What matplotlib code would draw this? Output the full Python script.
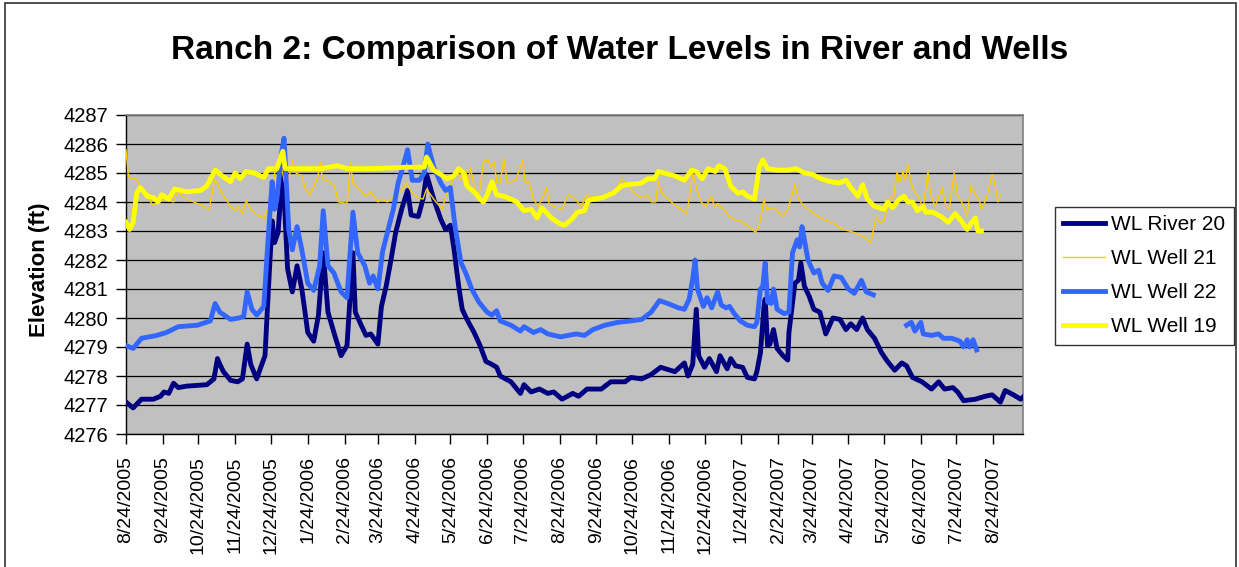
import numpy as np
import matplotlib
matplotlib.use("Agg")
import matplotlib.pyplot as plt
import matplotlib.dates as mdates
from matplotlib.patches import Rectangle
from matplotlib.ticker import FuncFormatter

plt.rcParams["font.family"] = ["Liberation Sans", "DejaVu Sans"]

START = np.datetime64("2005-08-24")

# --- WL River 20 (dni od 8/24/2005, poziom w ft) ---
river_day = [0, 6, 13, 23, 29, 32, 36, 40, 44, 51, 68, 74, 77, 79, 82, 88, 94, 98, 102, 105,
             110, 113, 117, 120, 123, 125, 128, 130, 132, 134, 136, 140, 144, 148, 153, 158,
             162, 166, 170, 175, 181, 186, 191, 193, 198, 202, 206, 212, 215, 219, 223, 227,
             232, 237, 240, 246, 250, 253, 259, 265, 269, 273, 276, 280, 283, 287, 293, 298,
             303, 308, 312, 315, 324, 332, 335, 341, 348, 355, 360, 367, 376, 381, 388, 400,
             408, 420, 425, 434, 442, 450, 462, 470, 473, 477, 480, 482, 487, 491, 497, 500,
             506, 509, 513, 519, 523, 529, 531, 534, 537, 538, 540, 542, 545, 548, 553, 557,
             558, 563, 566, 568, 571, 575, 579, 584, 589, 595, 601, 606, 610, 615, 620, 624,
             630, 636, 641, 647, 653, 657, 662, 670, 678, 684, 689, 696, 700, 705, 715, 723,
             729, 736, 740, 747, 753, 757]
river_wl = [4277.1, 4276.9, 4277.2, 4277.2, 4277.3, 4277.45, 4277.4, 4277.75, 4277.6, 4277.65,
            4277.7, 4277.9, 4278.6, 4278.4, 4278.15, 4277.85, 4277.8, 4277.9, 4279.1, 4278.4,
            4277.9, 4278.25, 4278.7, 4281.1, 4283.35, 4282.6, 4282.95, 4284.1, 4285.1, 4283.4,
            4281.7, 4280.9, 4281.8, 4281.0, 4279.5, 4279.2, 4280.1, 4282.25, 4280.2, 4279.5,
            4278.7, 4279.05, 4282.25, 4280.2, 4279.75, 4279.4, 4279.45, 4279.1, 4280.4, 4281.1,
            4282.0, 4282.95, 4283.75, 4284.4, 4283.55, 4283.5, 4284.1, 4284.95, 4284.1, 4283.4,
            4283.05, 4283.2, 4282.4, 4281.1, 4280.3, 4279.95, 4279.5, 4279.05, 4278.5, 4278.4,
            4278.3, 4278.0, 4277.8, 4277.4, 4277.7, 4277.45, 4277.55, 4277.4, 4277.45, 4277.2,
            4277.4, 4277.3, 4277.55, 4277.55, 4277.8, 4277.8, 4277.95, 4277.9, 4278.05, 4278.3,
            4278.15, 4278.45, 4278.0, 4278.4, 4280.3, 4278.7, 4278.3, 4278.6, 4278.15, 4278.7,
            4278.25, 4278.6, 4278.35, 4278.3, 4277.95, 4277.9, 4278.15, 4278.8, 4280.4, 4280.65,
            4279.05, 4279.1, 4279.6, 4278.95, 4278.7, 4278.55, 4279.5, 4281.2, 4281.3, 4281.9,
            4281.1, 4280.75, 4280.3, 4280.2, 4279.45, 4280.0, 4279.95, 4279.6, 4279.8, 4279.6,
            4280.0, 4279.6, 4279.3, 4278.8, 4278.5, 4278.2, 4278.45, 4278.35, 4277.95, 4277.8,
            4277.55, 4277.8, 4277.55, 4277.6, 4277.45, 4277.15, 4277.2, 4277.3, 4277.35, 4277.1,
            4277.5, 4277.35, 4277.2, 4277.35]

# --- WL Well 21 ---
w21_day = [0, 2, 5, 9, 12, 17, 22, 26, 32, 40, 44, 47, 54, 63, 70, 74, 75, 80, 84, 88, 92, 94,
           98, 101, 105, 110, 116, 119, 123, 126, 129, 130, 134, 137, 140, 143, 148, 151, 155,
           161, 164, 165, 171, 175, 179, 186, 189, 191, 196, 202, 206, 212, 215, 220, 225, 230,
           236, 240, 246, 250, 253, 259, 266, 270, 274, 279, 281, 286, 288, 290, 293, 297, 301,
           305, 307, 310, 312, 315, 318, 321, 328, 331, 334, 336, 339, 343, 347, 350, 354, 356,
           360, 367, 372, 377, 383, 388, 394, 401, 406, 412, 417, 421, 428, 434, 439, 442, 446,
           448, 450, 456, 462, 467, 472, 475, 477, 480, 484, 488, 493, 495, 498, 503, 508, 514,
           517, 526, 530, 533, 537, 539, 544, 547, 553, 557, 561, 563, 566, 571, 579, 587, 596,
           604, 613, 621, 627, 631, 635, 638, 643, 646, 649, 651, 654, 656, 658, 661, 663, 668,
           671, 675, 677, 681, 687, 690, 693, 697, 700, 704, 708, 711, 714, 718, 720, 724, 729,
           731, 734, 736]
w21_wl = [4285.8, 4284.9, 4284.8, 4284.8, 4284.45, 4284.3, 4283.9, 4283.95, 4284.1, 4284.0,
          4284.45, 4284.2, 4284.05, 4283.9, 4283.75, 4284.65, 4284.8, 4284.35, 4284.1, 4283.85,
          4283.7, 4283.85, 4283.6, 4284.05, 4283.75, 4283.55, 4283.45, 4283.75, 4284.1, 4285.35,
          4285.05, 4285.4, 4284.55, 4284.75, 4285.45, 4285.0, 4284.9, 4284.45, 4284.25, 4284.8,
          4285.4, 4284.8, 4284.7, 4284.6, 4284.0, 4283.95, 4285.35, 4284.65, 4284.45, 4284.2,
          4284.35, 4284.0, 4284.1, 4284.0, 4284.15, 4284.3, 4284.65, 4284.35, 4284.15, 4284.1,
          4284.45, 4284.1, 4283.75, 4284.3, 4284.65, 4285.2, 4284.75, 4285.1, 4284.65, 4285.2,
          4284.5, 4284.2, 4285.4, 4285.45, 4285.2, 4285.4, 4284.65, 4284.65, 4285.5, 4284.65,
          4284.75, 4285.1, 4285.45, 4284.65, 4284.7, 4284.1, 4283.85, 4284.1, 4284.5, 4283.95,
          4283.85, 4283.75, 4284.25, 4284.15, 4283.85, 4284.25, 4284.15, 4284.2, 4284.3, 4284.4,
          4284.8, 4284.65, 4284.3, 4284.15, 4284.25, 4284.0, 4284.0, 4284.75, 4284.35, 4284.1,
          4283.9, 4283.75, 4283.6, 4284.4, 4285.0, 4284.5, 4284.0, 4283.85, 4284.2, 4283.85,
          4283.95, 4283.75, 4283.5, 4283.35, 4283.35, 4283.1, 4282.95, 4283.2, 4284.1, 4283.75,
          4283.8, 4283.75, 4283.5, 4283.75, 4284.3, 4284.6, 4284.1, 4283.85, 4283.6, 4283.4,
          4283.25, 4283.05, 4282.95, 4282.8, 4282.6, 4283.45, 4283.3, 4283.35, 4284.2, 4284.1,
          4285.05, 4284.65, 4285.05, 4284.75, 4285.3, 4284.65, 4284.4, 4284.1, 4283.75, 4285.05,
          4284.3, 4283.85, 4284.5, 4283.85, 4283.75, 4285.0, 4284.2, 4283.95, 4283.5, 4284.55,
          4284.3, 4284.1, 4283.75, 4284.1, 4284.95, 4284.7, 4284.0, 4284.25]

# --- WL Well 22 (przerwa w danych ~ maj 2007) ---
w22_day = [0, 6, 13, 26, 34, 44, 60, 71, 75, 79, 88, 95, 99, 102, 106, 110, 116, 119, 123, 125,
           127, 131, 133, 135, 137, 140, 144, 148, 153, 158, 163, 166, 170, 175, 181, 186, 191,
           195, 201, 205, 208, 212, 216, 220, 225, 229, 233, 237, 241, 247, 251, 254, 259, 265,
           269, 273, 277, 282, 286, 291, 297, 304, 308, 312, 315, 324, 332, 335, 343, 349, 355,
           366, 372, 379, 386, 393, 403, 414, 425, 434, 442, 449, 456, 465, 470, 474, 477, 479,
           481, 486, 489, 493, 498, 501, 505, 508, 512, 517, 523, 529, 531, 534, 536, 538, 540,
           543, 545, 548, 554, 558, 561, 565, 567, 569, 571, 574, 579, 583, 586, 591, 596, 602,
           608, 613, 619, 623, 629, 643, 657, 661, 664, 669, 671, 678, 684, 688, 695, 702, 705,
           708, 710, 713, 716]
w22_wl = [4279.05, 4278.95, 4279.3, 4279.4, 4279.5, 4279.7, 4279.75, 4279.9, 4280.5, 4280.2,
          4279.95, 4280.0, 4280.05, 4280.9, 4280.3, 4280.1, 4280.4, 4282.35, 4284.7, 4283.75,
          4284.1, 4285.7, 4286.2, 4284.65, 4283.05, 4282.35, 4283.15, 4282.35, 4281.2, 4280.95,
          4281.8, 4283.7, 4281.8, 4281.55, 4280.9, 4280.7, 4283.65, 4282.25, 4281.8, 4281.2,
          4281.45, 4281.0, 4282.3, 4282.95, 4283.75, 4284.65, 4285.2, 4285.8, 4284.75, 4284.75,
          4285.0, 4286.0, 4285.2, 4284.65, 4284.4, 4284.5, 4283.15, 4281.9, 4281.55, 4281.0,
          4280.55, 4280.2, 4280.1, 4280.25, 4279.9, 4279.75, 4279.55, 4279.7, 4279.5, 4279.6,
          4279.45, 4279.35, 4279.4, 4279.45, 4279.4, 4279.6, 4279.75, 4279.85, 4279.9, 4279.95,
          4280.2, 4280.6, 4280.5, 4280.35, 4280.3, 4280.65, 4281.35, 4282.0, 4281.0, 4280.4,
          4280.7, 4280.35, 4280.9, 4280.45, 4280.35, 4280.4, 4280.15, 4279.9, 4279.75, 4279.7,
          4279.85, 4281.0, 4281.1, 4281.9, 4280.55, 4280.5, 4281.0, 4280.3, 4280.15, 4280.2,
          4282.25, 4282.7, 4282.45, 4283.15, 4282.7, 4282.0, 4281.55, 4281.65, 4281.2, 4280.95,
          4281.45, 4281.4, 4281.0, 4280.85, 4281.3, 4280.9, 4280.8, np.nan, 4279.75, 4279.85,
          4279.55, 4279.85, 4279.45, 4279.4, 4279.45, 4279.3, 4279.3, 4279.2, 4279.0, 4279.25,
          4279.0, 4279.25, 4278.9]

# --- WL Well 19 ---
w19_day = [0, 3, 6, 9, 12, 18, 23, 27, 30, 36, 41, 51, 63, 68, 75, 81, 88, 92, 96, 101, 108,
           116, 120, 127, 132, 134, 141, 164, 178, 186, 206, 237, 251, 253, 259, 265, 270, 276,
           280, 284, 287, 293, 298, 301, 304, 308, 312, 318, 324, 329, 335, 341, 346, 350, 358,
           365, 369, 375, 380, 386, 389, 394, 401, 410, 417, 422, 434, 439, 445, 448, 453, 462,
           470, 476, 480, 485, 490, 496, 499, 504, 509, 515, 519, 523, 529, 533, 536, 540, 548,
           557, 564, 571, 578, 585, 593, 600, 606, 610, 616, 620, 624, 630, 638, 641, 645, 651,
           655, 658, 662, 666, 671, 673, 679, 686, 692, 698, 703, 708, 711, 715, 717, 720]
w19_wl = [4283.3, 4283.05, 4283.3, 4284.3, 4284.5, 4284.2, 4284.15, 4284.0, 4284.25, 4284.1,
          4284.45, 4284.35, 4284.4, 4284.55, 4285.1, 4284.9, 4284.7, 4285.0, 4284.8, 4285.05,
          4285.0, 4284.85, 4285.15, 4285.15, 4285.75, 4285.15, 4285.15, 4285.15, 4285.25, 4285.15,
          4285.15, 4285.2, 4285.2, 4285.55, 4285.1, 4284.95, 4284.8, 4284.9, 4285.15, 4285.0,
          4284.55, 4284.35, 4284.1, 4284.0, 4284.25, 4284.7, 4284.25, 4284.2, 4284.1, 4284.0,
          4283.7, 4283.75, 4283.45, 4283.8, 4283.45, 4283.25, 4283.2, 4283.4, 4283.65, 4283.7,
          4284.05, 4284.1, 4284.15, 4284.3, 4284.55, 4284.6, 4284.65, 4284.8, 4284.8, 4285.05,
          4285.0, 4284.9, 4284.75, 4285.1, 4285.05, 4284.8, 4285.15, 4285.05, 4285.25, 4285.15,
          4284.55, 4284.3, 4284.35, 4284.2, 4284.1, 4285.2, 4285.45, 4285.15, 4285.1, 4285.1,
          4285.15, 4285.0, 4284.95, 4284.8, 4284.7, 4284.65, 4284.75, 4284.5, 4284.2, 4284.6,
          4284.1, 4283.85, 4283.75, 4284.0, 4283.8, 4284.1, 4284.2, 4284.0, 4284.0, 4283.7,
          4283.85, 4283.65, 4283.65, 4283.5, 4283.3, 4283.6, 4283.35, 4283.05, 4283.25, 4283.45,
          4283.0, 4283.0]


def to_dates(days):
    return START + np.array(days, dtype="timedelta64[D]")


W, H = 1239, 567
fig = plt.figure(figsize=(W / 100, H / 100), dpi=100)
ax = fig.add_axes([126 / W, 1 - 434 / H, 897 / W, 319 / H])
ax.set_facecolor("#C0C0C0")

# kolejność serii jak w Excelu
ax.plot(to_dates(river_day), river_wl, color="#000080", lw=3.5, label="WL River 20", zorder=3)
ax.plot(to_dates(w21_day), w21_wl, color="#FFCC00", lw=1.0, label="WL Well 21", zorder=3)
ax.plot(to_dates(w22_day), w22_wl, color="#3366FF", lw=3.5, label="WL Well 22", zorder=3)
ax.plot(to_dates(w19_day), w19_wl, color="#FFFF00", lw=3.5, label="WL Well 19", zorder=3)

ax.set_ylim(4276, 4287)
ax.set_yticks(range(4276, 4288))
ax.set_xlim(START, START + np.timedelta64(755, "D"))
ax.xaxis.set_major_locator(mdates.MonthLocator(bymonthday=24))
ax.xaxis.set_major_formatter(FuncFormatter(
    lambda v, pos: (lambda d: f"{d.month}/{d.day}/{d.year}")(mdates.num2date(v))))

ax.grid(axis="y", color="black", lw=0.9, zorder=1)
ax.set_axisbelow(True)
for side in ("top", "right"):
    ax.spines[side].set_color("#808080")
    ax.spines[side].set_linewidth(1.2)
for side in ("left", "bottom"):
    ax.spines[side].set_color("black")
    ax.spines[side].set_linewidth(1.0)

ax.tick_params(axis="both", direction="out", length=7, width=1, colors="black")
ax.tick_params(axis="y", labelsize=14.5, pad=6)
ax.tick_params(axis="x", labelsize=14, rotation=90, pad=9)

fig.text(0.5, 1 - 51 / H, "Ranch 2: Comparison of Water Levels in River and Wells",
         ha="center", va="center", fontsize=24, fontweight="bold")
fig.text(40 / W, 1 - 270 / H, "Elevation (ft)", rotation=90, ha="center", va="center",
         fontsize=16, fontweight="bold")

leg = fig.legend(loc="upper left", bbox_to_anchor=(1055 / W, 1 - 207 / H),
                 fontsize=15, frameon=True, fancybox=False, edgecolor="black",
                 handlelength=2.0, handletextpad=0.3, borderaxespad=0,
                 labelspacing=0.72, borderpad=0.4)
leg.get_frame().set_linewidth(1.0)

# ramka wokół całego wykresu
fig.add_artist(Rectangle((5 / W, -0.1), (1236 - 5) / W, 1.1 - 3 / H,
                         transform=fig.transFigure, fill=False,
                         edgecolor="#333333", lw=1.2))

fig.savefig("out.png", dpi=100)
